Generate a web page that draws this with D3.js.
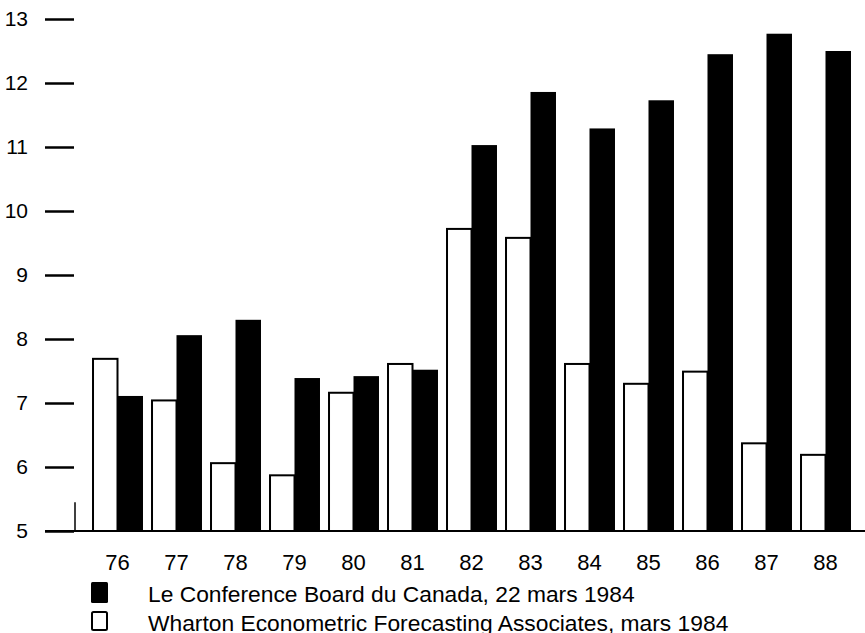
<!DOCTYPE html>
<html>
<head>
<meta charset="utf-8">
<script src="https://cdn.jsdelivr.net/npm/d3@7"></script>
<style>
  body { margin: 0; background: #fff; }
  svg { display: block; }
  text { font-family: "Liberation Sans", Arial, Helvetica, sans-serif; fill: #000; }
</style>
</head>
<body>
<script>
// chart size
var w = 865;
var h = 633;

// data
const years = ["76", "77", "78", "79", "80", "81", "82", "83", "84", "85", "86", "87", "88"];
const conferenceBoard = [7.11, 8.06, 8.30, 7.39, 7.42, 7.52, 11.03, 11.86, 11.29, 11.73, 12.45, 12.77, 12.50];
const wharton = [7.69, 7.04, 6.06, 5.87, 7.16, 7.61, 9.72, 9.58, 7.61, 7.30, 7.49, 6.37, 6.19];
const yTicks = [5, 6, 7, 8, 9, 10, 11, 12, 13];
const seriesKeys = ["wharton", "conference"];
const legendLabels = [
  "Le Conference Board du Canada, 22 mars 1984",
  "Wharton Econometric Forecasting Associates, mars 1984"
];
const stubValue = 5.45;

const dataset = years.map((y, i) => ({ year: y, wharton: wharton[i], conference: conferenceBoard[i] }));

// scales
const yScale = d3.scaleLinear()
                .domain([5, 13])
                .range([531, 19]);

const x0 = d3.scaleBand()
                .domain(years)
                .range([88, 855])
                .paddingInner(0.136)
                .paddingOuter(0.068);

const x1 = d3.scaleBand()
                .domain(seriesKeys)
                .range([0, x0.bandwidth()]);

const svg = d3.select("body")
              .append("svg")
                .attr("width", w)
                .attr("height", h);

// y axis: short dashes with labels, no domain line
const yAxis = d3.axisLeft(yScale)
                .tickValues(yTicks)
                .tickSize(29)
                .tickPadding(17)
                .tickFormat(d3.format("d"));

const gy = svg.append("g")
  .attr("transform", "translate(74, 0)")
  .call(yAxis);
gy.select(".domain").remove();
gy.selectAll(".tick line").attr("stroke", "#000").attr("stroke-width", 2.5);
gy.selectAll(".tick text")
  .style("font-size", "21px")
  .attr("fill", "#000");

// bars
const groups = svg.selectAll("g.year")
  .data(dataset)
  .enter()
  .append("g")
    .attr("class", "year")
    .attr("transform", d => `translate(${x0(d.year)}, 0)`);

groups.selectAll("rect")
  .data(d => seriesKeys.map(k => ({ key: k, value: d[k] })))
  .enter()
  .append("rect")
    .attr("x", d => x1(d.key) + (d.key === "wharton" ? 1 : 0))
    .attr("y", d => yScale(d.value))
    .attr("width", d => x1.bandwidth() - (d.key === "wharton" ? 1 : 0))
    .attr("height", d => yScale(5) - yScale(d.value))
    .attr("fill", d => d.key === "wharton" ? "#fff" : "#000")
    .attr("stroke", d => d.key === "wharton" ? "#000" : "none")
    .attr("stroke-width", 2);

// baseline
svg.append("line")
  .attr("x1", 45)
  .attr("x2", w)
  .attr("y1", yScale(5))
  .attr("y2", yScale(5))
  .attr("stroke", "#000")
  .attr("stroke-width", 2);

// little stub at the end of the tick column
svg.append("line")
  .attr("x1", 75)
  .attr("x2", 75)
  .attr("y1", yScale(5))
  .attr("y2", yScale(stubValue))
  .attr("stroke", "#000")
  .attr("stroke-width", 1.5);

// x labels
svg.selectAll("text.xlab")
  .data(years)
  .enter()
  .append("text")
    .attr("class", "xlab")
    .attr("x", d => x0(d) + x0.bandwidth() / 2)
    .attr("y", 570)
    .attr("text-anchor", "middle")
    .style("font-size", "22px")
    .text(d => d);

// legend
const legend = svg.selectAll("g.legend")
  .data(legendLabels)
  .enter()
  .append("g")
    .attr("class", "legend")
    .attr("transform", (d, i) => `translate(91, ${582 + i * 29})`);

legend.append("rect")
  .attr("x", (d, i) => i === 1 ? 1 : 0)
  .attr("y", (d, i) => i === 1 ? 1 : 0)
  .attr("width", (d, i) => i === 1 ? 15 : 17)
  .attr("height", (d, i) => i === 1 ? 18 : 21)
  .attr("rx", 1.5)
  .attr("fill", (d, i) => i === 0 ? "#000" : "#fff")
  .attr("stroke", (d, i) => i === 0 ? "none" : "#000")
  .attr("stroke-width", 2);

legend.append("text")
  .attr("x", 57)
  .attr("y", 20)
  .style("font-size", "22.8px")
  .text(d => d);
</script>
</body>
</html>
